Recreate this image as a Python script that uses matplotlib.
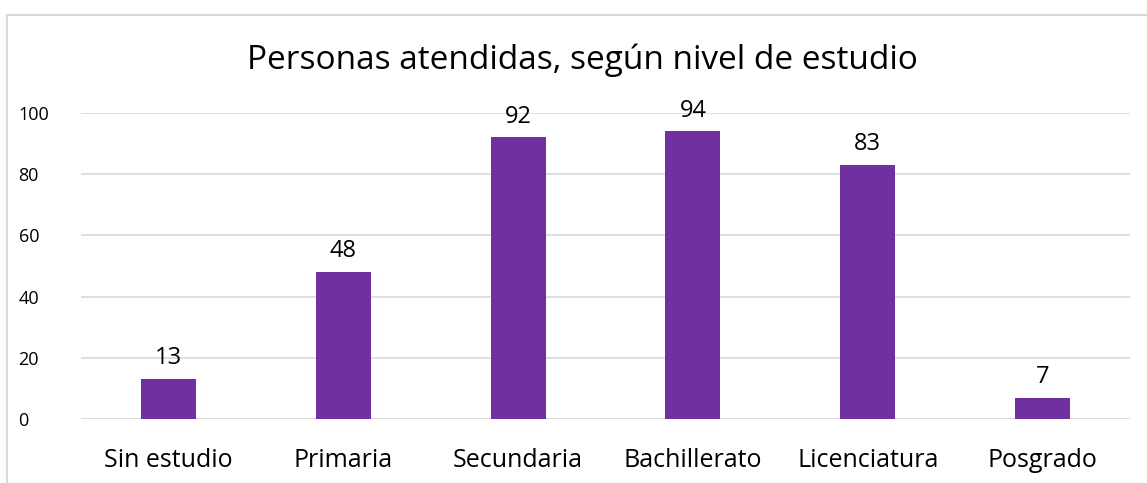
import numpy as np
import matplotlib
matplotlib.use("Agg")
from matplotlib import pyplot as plt
from matplotlib.lines import Line2D

categorias = ["Sin estudio", "Primaria", "Secundaria", "Bachillerato", "Licenciatura", "Posgrado"]
personas = [13, 48, 92, 94, 83, 7]
ticks_y = [0, 20, 40, 60, 80, 100]

plt.rcParams['font.family'] = ['Open Sans', 'DejaVu Sans']

fig = plt.figure(figsize=(11.47, 4.83), dpi=100)
ax = fig.add_axes([81/1147, 1 - 419/483, (1130 - 81)/1147, (419 - 113)/483])

x = np.arange(len(categorias))
ax.bar(x, personas, width=0.315, color="#7030A0", zorder=3)
for xi, v in zip(x, personas):
    ax.annotate(str(v), (xi, v), xytext=(0, 15), textcoords="offset points",
                ha="center", va="center", fontsize=17, color="#000000")

ax.set_xlim(-0.5, len(categorias) - 0.5)
ax.set_ylim(0, 100)
ax.set_yticks(ticks_y)
ax.set_yticklabels([str(t) for t in ticks_y], fontsize=13)
ax.set_xticks(x)
ax.set_xticklabels(categorias, fontsize=18)
ax.tick_params(axis="both", length=0, colors="#000000")
ax.tick_params(axis="y", pad=45)
ax.tick_params(axis="x", pad=21)
for t in ax.get_yticklabels():
    t.set_horizontalalignment("left")
ax.yaxis.grid(True, color="#D9D9D9", linewidth=1.2, zorder=0)
for s in ax.spines.values():
    s.set_visible(False)
ax.axhline(0, color="#D9D9D9", linewidth=1.2, zorder=2)

fig.text(582/1147, 1 - 60/483, "Personas atendidas, según nivel de estudio",
         ha="center", va="center", fontsize=24, color="#000000")

# marco del gráfico (recortado a la derecha y abajo)
fig.add_artist(Line2D([7/1147, 7/1147], [0, 1 - 15/483], color="#D9D9D9", linewidth=1.5))
fig.add_artist(Line2D([7/1147, 1], [1 - 15/483, 1 - 15/483], color="#D9D9D9", linewidth=1.5))

fig.savefig("out.png", dpi=100)
